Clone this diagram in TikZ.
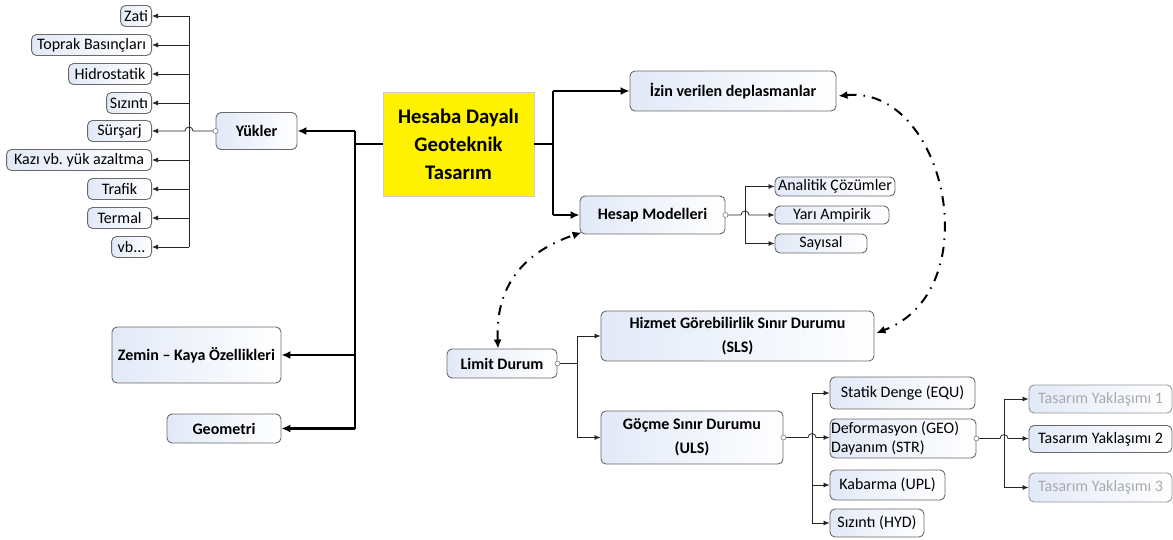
\documentclass[tikz,border=0pt]{standalone}
\usepackage{fontspec}
\setmainfont{Carlito}
\frenchspacing
\usetikzlibrary{arrows.meta}
\definecolor{boxblue}{RGB}{226,233,247}
\definecolor{edgegray}{RGB}{105,105,105}
\definecolor{paletext}{RGB}{170,170,170}
\definecolor{paleedge}{RGB}{150,150,150}
\tikzset{
 box/.style={draw=edgegray, line width=0.9pt, rounded corners=5pt, left color=boxblue, right color=white, inner sep=1pt, align=center, font=\fontsize{16}{19.5}\selectfont},
 bbox/.style={box, font=\fontsize{16}{24}\selectfont\bfseries},
 palebox/.style={box, draw=paleedge, text=paletext},
 thinarr/.style={draw=black!85, line width=0.8pt, -{Latex[length=6pt,width=5pt]}},
 thickarr/.style={draw=black, line width=2.2pt, -{Latex[length=9pt,width=8pt]}},
 thickline/.style={draw=black, line width=2.2pt},
 thinline/.style={draw=black!85, line width=0.8pt},
 dd/.style={line width=2pt, dash pattern=on 10pt off 7pt on 1.5pt off 7pt, {Latex[length=9pt,width=8pt]}-{Latex[length=9pt,width=8pt]}},
 knob/.style={circle, draw=gray, fill=white, line width=0.6pt, inner sep=0pt, minimum size=5pt},
}
\begin{document}
\begin{tikzpicture}[x=1pt,y=-1pt]
\useasboundingbox (0,0) rectangle (1173,540);

% left column
\node[box, anchor=east, minimum width=31pt, minimum height=21pt] (zati) at (152,16) {Zati};
\node[box, anchor=east, minimum width=120pt, minimum height=21pt] (toprak) at (152,45) {Toprak Basınçları};
\node[box, anchor=east, minimum width=83pt, minimum height=21pt] (hidro) at (152,74) {Hidrostatik};
\node[box, anchor=east, minimum width=45pt, minimum height=21pt] (siz) at (152,103) {Sızıntı};
\node[box, anchor=east, minimum width=64pt, minimum height=21pt] (sur) at (152,131) {Sürşarj};
\node[box, anchor=east, minimum width=145pt, minimum height=21pt] (kazi) at (152,160) {Kazı vb. yük azaltma};
\node[box, anchor=east, minimum width=64pt, minimum height=21pt] (trafik) at (152,189) {Trafik};
\node[box, anchor=east, minimum width=64pt, minimum height=21pt] (termal) at (152,218) {Termal};
\node[box, anchor=east, minimum width=40pt, minimum height=21pt] (vb) at (152,247) {vb...};

\node[bbox, minimum width=81pt, minimum height=37pt] (yuk) at (256.5,131) {Yükler};
\node[bbox, minimum width=169pt, minimum height=56pt] (zemin) at (196.5,355) {Zemin – Kaya Özellikleri};
\node[bbox, minimum width=114pt, minimum height=29pt] (geo) at (224,428.5) {Geometri};

% main
\node[draw=black!20, line width=0.5pt, fill=yellow, minimum width=151pt, minimum height=104pt, align=center, font=\fontsize{20.7}{28}\selectfont\bfseries] (main) at (458.5,144) {Hesaba Dayalı\\Geoteknik\\Tasarım};

% right upper
\node[bbox, minimum width=206pt, minimum height=40pt] (izin) at (733,91) {İzin verilen deplasmanlar};
\node[bbox, minimum width=145pt, minimum height=38pt] (hesap) at (652.5,215) {Hesap Modelleri};
\node[box, minimum width=120pt, minimum height=19pt] (anal) at (835,186.5) {Analitik Çözümler};
\node[box, minimum width=114pt, minimum height=18pt] (yari) at (832,215) {Yarı Ampirik};
\node[box, minimum width=92pt, minimum height=19pt] (say) at (821,243.5) {Sayısal};

% limit states
\node[bbox, minimum width=110pt, minimum height=29pt] (limit) at (502,363.5) {Limit Durum};
\node[bbox, minimum width=273pt, minimum height=50pt] (sls) at (737.5,336) {Hizmet Görebilirlik Sınır Durumu\\(SLS)};
\node[bbox, minimum width=182pt, minimum height=53pt] (uls) at (692,437.5) {Göçme Sınır Durumu\\(ULS)};
\node[box, minimum width=145pt, minimum height=32pt] (equ) at (902.5,393) {Statik Denge (EQU)};
\node[box, minimum width=146pt, minimum height=39pt, text width=144pt, align=flush left, inner sep=1pt] (gstr) at (903,438.5) {Deformasyon (GEO)\\Dayanım (STR)};
\node[box, minimum width=115pt, minimum height=30pt] (upl) at (887.5,485) {Kabarma (UPL)};
\node[box, minimum width=94pt, minimum height=28pt] (hyd) at (877,523) {Sızıntı (HYD)};
\node[palebox, minimum width=143pt, minimum height=28pt] (ty1) at (1100.5,399) {Tasarım Yaklaşımı 1};
\node[box, minimum width=143pt, minimum height=27pt] (ty2) at (1100.5,439) {Tasarım Yaklaşımı 2};
\node[palebox, minimum width=143pt, minimum height=29pt] (ty3) at (1100.5,487.5) {Tasarım Yaklaşımı 3};

% bus coordinates
\coordinate (lb) at (189,0);
\coordinate (lt) at (355,0);
\coordinate (rt) at (553,0);
\coordinate (hb) at (745,0);
\coordinate (lm) at (577,0);
\coordinate (ub) at (812,0);
\coordinate (gb) at (1004,0);

% Yükler bus
\draw[thinline] (lb |- zati.east) -- (lb |- vb.east);
\foreach \n in {zati,toprak,hidro,siz,kazi,trafik,termal,vb}
  \draw[thinarr] (lb |- \n.east) -- (\n.east);
\draw[thinarr] (yuk.west) -- ([xshift=4pt]lb |- yuk.west) arc[start angle=0,end angle=180,radius=4pt] -- (sur.east);
\node[knob] at (yuk.west) {};

% main left trunk
\draw[thickline] (main.west) -- (lt |- main.west);
\draw[thickline] (lt |- yuk.east) -- (lt |- geo.east);
\draw[thickarr] (lt |- yuk.east) -- (yuk.east);
\draw[thickarr] (lt |- zemin.east) -- (zemin.east);
\draw[thickarr] (lt |- geo.east) -- (geo.east);

% main right trunk
\draw[thickline] (main.east) -- (rt |- main.east);
\draw[thickline] (rt |- izin.west) -- (rt |- hesap.west);
\draw[thickarr] (rt |- izin.west) -- (izin.west);
\draw[thickarr] (rt |- hesap.west) -- (hesap.west);

% Hesap modelleri bus
\draw[thinline] (hb |- anal.west) -- (hb |- say.west);
\draw[thinarr] (hb |- anal.west) -- (anal.west);
\draw[thinarr] (hb |- say.west) -- (say.west);
\draw[thinarr] (hesap.east) -- ([xshift=-4pt]hb |- hesap.east) arc[start angle=180,end angle=0,radius=4pt] -- (yari.west);
\node[knob] at (hesap.east) {};

% Limit durum bus
\draw[thinline] (limit.east) -- (lm |- limit.east);
\draw[thinline] (lm |- sls.west) -- (lm |- uls.west);
\draw[thinarr] (lm |- sls.west) -- (sls.west);
\draw[thinarr] (lm |- uls.west) -- (uls.west);
\node[knob] at (limit.east) {};

% ULS bus
\draw[thinline] (ub |- equ.west) -- (ub |- hyd.west);
\draw[thinarr] (ub |- equ.west) -- (equ.west);
\draw[thinarr] (ub |- upl.west) -- (upl.west);
\draw[thinarr] (ub |- hyd.west) -- (hyd.west);
\draw[thinarr] (uls.east) -- ([xshift=-4pt]ub |- uls.east) arc[start angle=180,end angle=0,radius=4pt] -- (gstr.west |- uls.east);
\node[knob] at (uls.east) {};

% GEO/STR bus
\draw[thinline] (gb |- ty1.west) -- (gb |- ty3.west);
\draw[thinarr] (gb |- ty1.west) -- (ty1.west);
\draw[thinarr] (gb |- ty3.west) -- (ty3.west);
\draw[thinarr] (gstr.east) -- ([xshift=-4pt]gb |- gstr.east) arc[start angle=180,end angle=0,radius=4pt] -- (ty2.west |- gstr.east);
\node[knob] at (gstr.east) {};

% dash-dot relations
\coordinate (izinR) at ([xshift=2pt,yshift=-5pt]izin.east);
\coordinate (slsR) at ([xshift=2pt,yshift=3pt]sls.east);
\draw[dd] (izinR) .. controls (945,85) and (990,290) .. (slsR);
\coordinate (limT) at ([xshift=-4pt]limit.north);
\coordinate (hesBL) at ([xshift=2pt,yshift=2pt]hesap.south west);
\draw[dd] (limT) .. controls (495,280) and (530,250) .. (hesBL);
\end{tikzpicture}
\end{document}
